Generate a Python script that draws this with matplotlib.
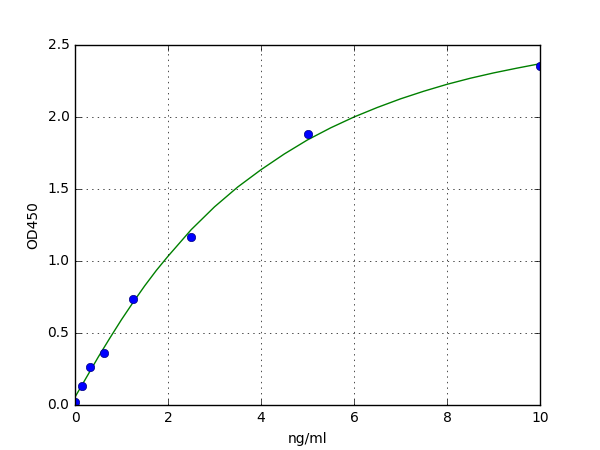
import matplotlib
matplotlib.use("Agg")
import matplotlib.pyplot as plt

# Standard points
conc = [0.0, 0.156, 0.312, 0.625, 1.25, 2.5, 5.0, 10.0]
od = [0.02, 0.132, 0.266, 0.363, 0.734, 1.165, 1.88, 2.354]

# Fitted curve
curve_x = [0.0, 0.25, 0.5, 0.75, 1.0, 1.25, 1.5, 1.75, 2.0, 2.5, 3.0, 3.5, 4.0,
           4.5, 5.0, 5.5, 6.0, 6.5, 7.0, 7.5, 8.0, 8.5, 9.0, 9.5, 10.0]
curve_y = [0.055, 0.194, 0.333, 0.465, 0.593, 0.713, 0.828, 0.935, 1.033, 1.218,
           1.376, 1.514, 1.634, 1.743, 1.841, 1.925, 2.000, 2.066, 2.126, 2.179,
           2.227, 2.269, 2.306, 2.339, 2.370]

xticks = [0, 2, 4, 6, 8, 10]
yticks = [0.0, 0.5, 1.0, 1.5, 2.0, 2.5]

plt.style.use("classic")
fig = plt.figure(figsize=(6, 4.5), dpi=100, facecolor="white")
ax = fig.add_subplot(111)
ax.plot(curve_x, curve_y, "g-", linewidth=1)
ax.plot(conc, od, "bo", markersize=6, markeredgewidth=0.5, markeredgecolor="#000080")
ax.set_xlim(0, 10)
ax.set_ylim(0, 2.5)
ax.set_xticks(xticks)
ax.set_yticks(yticks)
ax.set_yticklabels([f"{v:.1f}" for v in yticks])
ax.set_xlabel("ng/ml", fontsize=10)
ax.set_ylabel("OD450", fontsize=10)
ax.tick_params(labelsize=10)
ax.grid(True, linestyle=":", color="black", linewidth=0.5)
fig.savefig("out.png", dpi=100, facecolor="white")
